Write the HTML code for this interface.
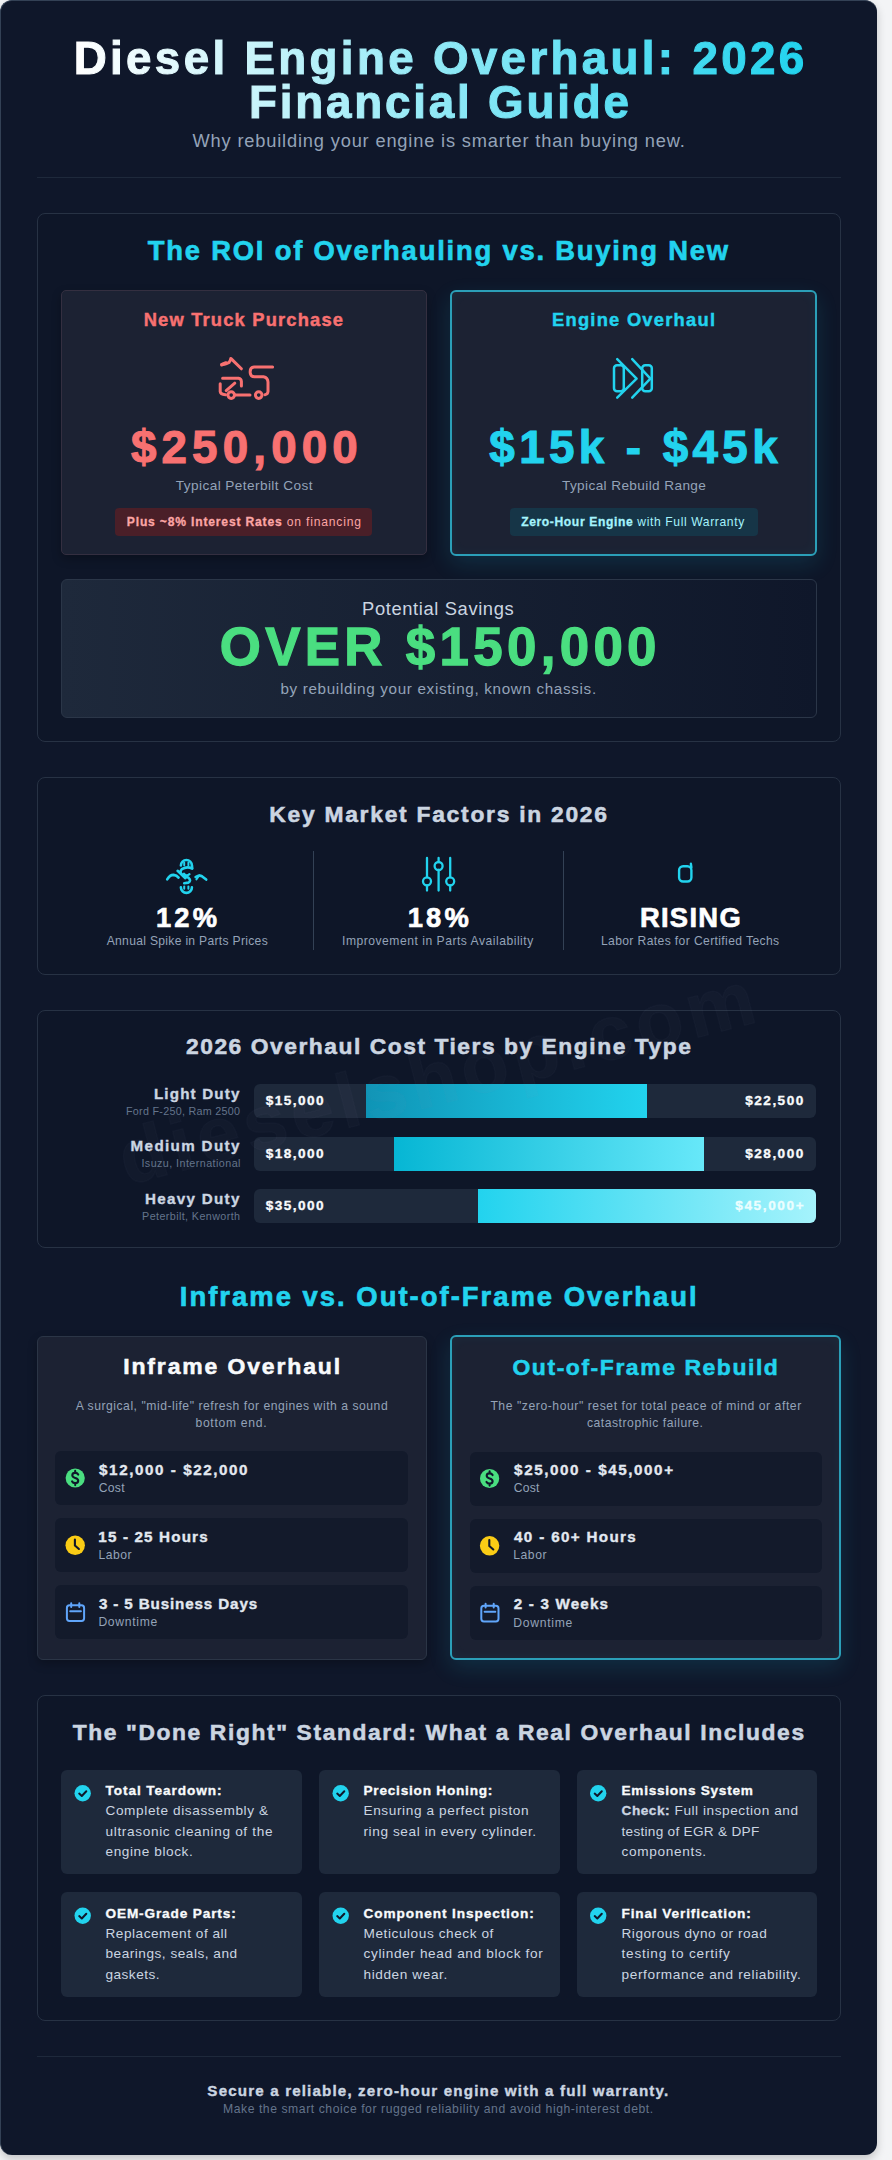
<!DOCTYPE html>
<html><head><meta charset="utf-8"><title>Diesel Engine Overhaul: 2026 Financial Guide</title>
<style>
html,body{margin:0;padding:0;}
body{width:892px;height:2160px;background:#f3f4f6;position:relative;overflow:hidden;font-family:"Liberation Sans",sans-serif;}
.b{position:absolute;box-sizing:border-box;}
.t{position:absolute;white-space:nowrap;font-family:"Liberation Sans",sans-serif;}
svg{position:absolute;overflow:visible;}
</style></head><body>
<!-- container -->
<div class="b" style="left:0;top:0;width:877px;height:2155px;border-radius:12px;background:#0f172a;border-top:1px solid #334155;border-left:1px solid #334155;box-shadow:0 4px 10px rgba(0,0,0,0.2);"></div>
<!-- header divider -->
<div class="b" style="left:37px;top:177px;width:804px;height:1px;background:#1e293b;"></div>

<!-- section 1 ROI -->
<div class="b" style="left:37px;top:213px;width:804px;height:529px;border-radius:8px;background:#0e1628;border:1px solid #273244;"></div>
<div class="b" style="left:61px;top:290px;width:366px;height:265px;border-radius:5px;background:#1c2233;border:1px solid #342f40;box-shadow:0 4px 10px rgba(0,0,0,0.25);"></div>
<div class="b" style="left:450px;top:289.5px;width:367px;height:266.5px;border-radius:6px;background:#1c2233;border:2px solid #2b9fb8;box-shadow:0 8px 22px rgba(34,211,238,0.13), inset 0 0 12px rgba(34,211,238,0.05);"></div>
<div class="b" style="left:115px;top:507.5px;width:257px;height:28px;border-radius:4px;background:#4a1f28;"></div>
<div class="b" style="left:509.5px;top:507.5px;width:248.5px;height:28px;border-radius:4px;background:#163547;"></div>
<div class="b" style="left:61px;top:579px;width:756px;height:139px;border-radius:6px;background:linear-gradient(90deg,#1e293b,#0f172a);border:1px solid #2b3648;"></div>

<!-- section 2 key factors -->
<div class="b" style="left:37px;top:777px;width:804px;height:198px;border-radius:8px;background:#0e1628;border:1px solid #273244;"></div>
<div class="b" style="left:313px;top:851px;width:1px;height:99px;background:#334155;"></div>
<div class="b" style="left:563px;top:851px;width:1px;height:99px;background:#334155;"></div>

<!-- section 3 cost tiers -->
<div class="b" style="left:37px;top:1010px;width:804px;height:238px;border-radius:8px;background:#0e1628;border:1px solid #273244;overflow:hidden;"></div>
<div class="b" style="left:254px;top:1084px;width:562px;height:34px;border-radius:6px;background:#1e293b;overflow:hidden;"><div class="b" style="left:112px;top:0;width:281px;height:34px;background:linear-gradient(90deg,#0e94b6,#22d3ee);"></div></div>
<div class="b" style="left:254px;top:1136.5px;width:562px;height:34px;border-radius:6px;background:#1e293b;overflow:hidden;"><div class="b" style="left:140px;top:0;width:309.5px;height:34px;background:linear-gradient(90deg,#06b6d4,#67e8f9);"></div></div>
<div class="b" style="left:254px;top:1189px;width:562px;height:34px;border-radius:6px;background:#1e293b;overflow:hidden;"><div class="b" style="left:224px;top:0;width:338px;height:34px;background:linear-gradient(90deg,#22d3ee,#a5f3fc);"></div></div>

<!-- section 4 inframe -->
<div class="b" style="left:37px;top:1336px;width:390px;height:324px;border-radius:6px;background:#1c2233;border:1px solid #2b3546;box-shadow:0 4px 10px rgba(0,0,0,0.25);"></div>
<div class="b" style="left:450px;top:1335px;width:391px;height:325px;border-radius:6px;background:#1c2233;border:2px solid #2b9fb8;box-shadow:0 8px 22px rgba(34,211,238,0.13), inset 0 0 12px rgba(34,211,238,0.05);"></div>
<div class="b" style="left:55px;top:1451px;width:353px;height:54px;border-radius:6px;background:#131a2b;"></div>
<div class="b" style="left:55px;top:1518px;width:353px;height:54px;border-radius:6px;background:#131a2b;"></div>
<div class="b" style="left:55px;top:1585px;width:353px;height:54px;border-radius:6px;background:#131a2b;"></div>
<div class="b" style="left:470px;top:1451.5px;width:352px;height:54px;border-radius:6px;background:#131a2b;"></div>
<div class="b" style="left:470px;top:1518.5px;width:352px;height:54px;border-radius:6px;background:#131a2b;"></div>
<div class="b" style="left:470px;top:1585.5px;width:352px;height:54px;border-radius:6px;background:#131a2b;"></div>

<!-- section 5 done right -->
<div class="b" style="left:37px;top:1695px;width:804px;height:326px;border-radius:8px;background:#0e1628;border:1px solid #273244;"></div>
<div class="b" style="left:61px;top:1769.5px;width:240.5px;height:104.5px;border-radius:6px;background:#1e293b;"></div>
<div class="b" style="left:319px;top:1769.5px;width:240.5px;height:104.5px;border-radius:6px;background:#1e293b;"></div>
<div class="b" style="left:577px;top:1769.5px;width:240px;height:104.5px;border-radius:6px;background:#1e293b;"></div>
<div class="b" style="left:61px;top:1892px;width:240.5px;height:104.5px;border-radius:6px;background:#1e293b;"></div>
<div class="b" style="left:319px;top:1892px;width:240.5px;height:104.5px;border-radius:6px;background:#1e293b;"></div>
<div class="b" style="left:577px;top:1892px;width:240px;height:104.5px;border-radius:6px;background:#1e293b;"></div>

<!-- footer divider -->
<div class="b" style="left:37px;top:2056px;width:804px;height:1px;background:#1e293b;"></div>

<div class="t" style="left:0;top:0;width:892px;height:2160px;pointer-events:none;">
<div style="position:absolute;left:439px;top:1077px;font-family:'Liberation Sans',sans-serif;font-weight:700;font-size:77px;line-height:77px;letter-spacing:5.5px;color:rgba(148,163,184,0.032);-webkit-text-stroke:1.5px rgba(148,163,184,0.032);transform:translate(-50%,-50%) rotate(-14.5deg);white-space:nowrap;">dieselshop.com</div>
</div>
<svg style="left:0;top:0" width="892" height="2160" viewBox="0 0 892 2160" fill="none" stroke-linecap="round" stroke-linejoin="round">
 <!-- truck garbled -->
 <g stroke="#f87171" stroke-width="3">
  <path d="M221.8 364.5 Q226.5 364.2 229 362.5 Q230.5 360.5 230.8 358.4 L241.4 368.8"/>
  <path d="M221.9 364.7 L226 363" stroke-width="3.6"/>
  <path d="M220.2 383.8 V391.5 Q220.5 394.3 225.5 394.8"/>
  <path d="M222.6 378.3 H238.5 Q241.2 378.8 241.4 381.5 V386"/>
  <path d="M234.8 383.2 L226.2 390.6"/>
  <circle cx="231.2" cy="395.1" r="3.3"/>
  <path d="M235.5 395.1 H250"/>
  <circle cx="258.7" cy="395.1" r="3.3"/>
  <path d="M272.6 366.9 H254 Q250.2 367.2 250.2 371.2 V372.8 Q250.6 376.7 254.5 376.7 H263.5 Q267.8 377.5 268 382 V391.5 Q267.8 394.3 265 394.7"/>
 </g>
 <!-- engine icon -->
 <g stroke="#22d3ee" stroke-width="2.5">
  <rect x="614" y="365.3" width="9.8" height="26" rx="3"/>
  <rect x="642.2" y="365.3" width="9.6" height="26" rx="3"/>
  <path d="M617.2 359.2 L636.6 378.6 L617.2 397.6"/>
  <path d="M632.2 359.2 L650.4 378.6 L632.2 397.6"/>
 </g>
 <!-- dollar garbled -->
 <g stroke="#22d3ee" stroke-width="2.6">
  <path d="M180.9 865.5 A5.5 5.5 0 0 1 191.9 865.5 L192.2 868"/>
  <path d="M184.2 862.8 V865.2" stroke-width="2"/><path d="M188.4 862.8 V865.2" stroke-width="2"/>
  <path d="M167.2 879.4 Q169.8 874.8 173.6 874.9 Q176.8 875.3 178.6 877.6"/>
  <path d="M192.2 868.6 Q187 865.8 181.8 869.2 Q178.6 872.8 183.4 875.4 L188.6 877.8 Q191.6 880.8 188.4 882.6 L184.2 883.2"/>
  <path d="M177.6 870.8 L185.4 878.2"/>
  <path d="M184 873.6 Q186.5 876.8 189.5 874.2" stroke-width="2.2"/>
  <path d="M195.6 877 Q199.4 874.6 202.2 876.4 L206.2 879.6"/>
  <path d="M199.4 875.2 L196.4 879.4" stroke-width="2"/>
  <path d="M180.9 887.4 A5.5 5.5 0 0 0 191.9 887.4"/>
  <path d="M184.2 886.4 V888.8" stroke-width="2"/><path d="M188.4 886.4 V888.8" stroke-width="2"/>
 </g>
 <!-- sliders -->
 <g stroke="#22d3ee" stroke-width="2.3">
  <path d="M427 858 V877.3 M427 885.3 V890.6"/>
  <path d="M438.6 858 V862 M438.6 870 V890.6"/>
  <path d="M450.2 858 V877.3 M450.2 885.3 V890.6"/>
  <circle cx="427" cy="881.3" r="4"/>
  <circle cx="438.6" cy="866" r="4"/>
  <circle cx="450.2" cy="881.3" r="4"/>
 </g>
 <!-- rising icon -->
 <g stroke="#22d3ee" stroke-width="2.4">
  <rect x="679.1" y="866.3" width="12.3" height="15.2" rx="4"/>
  <path d="M690.9 863.8 L691.4 867.5"/>
 </g>
 <!-- row icons -->
 <g id="ri">
  <circle cx="75.2" cy="1478" r="9.6" fill="#4ade80" stroke="none"/>
  <path d="M78.2 1474.6 Q77.3 1472.9 75.2 1472.9 Q72.3 1472.9 72.3 1475.3 Q72.4 1477.2 75.2 1477.9 Q78.2 1478.7 78.2 1480.8 Q78 1483.1 75.2 1483.1 Q73 1483.1 72.1 1481.4 M75.2 1470.9 V1472.6 M75.2 1483.4 V1485.1" stroke="#0f172a" stroke-width="2.1"/>
  <circle cx="75.2" cy="1545.3" r="9.7" fill="#facc15" stroke="none"/>
  <path d="M74.9 1539.6 V1545.5 L78.9 1549" stroke="#0f172a" stroke-width="2.1"/>
  <rect x="66.9" y="1605.3" width="17.2" height="15.6" rx="2.6" stroke="#60a5fa" stroke-width="2"/>
  <path d="M70.2 1611.3 H80.9 M71.2 1603.2 V1607 M79.3 1603.2 V1607" stroke="#60a5fa" stroke-width="2"/>
 </g>
 <use href="#ri" x="414.4" y="0.5"/>
 <!-- check icons -->
 <g id="ck">
  <circle cx="82.7" cy="1793.3" r="8.2" fill="#22d3ee" stroke="none"/>
  <path d="M79.2 1793.6 L81.8 1796 L86.3 1791.3" stroke="#0f172a" stroke-width="2"/>
 </g>
 <use href="#ck" x="258" y="0"/>
 <use href="#ck" x="515.5" y="0"/>
 <use href="#ck" x="0" y="122.5"/>
 <use href="#ck" x="258" y="122.5"/>
 <use href="#ck" x="515.5" y="122.5"/>
</svg>

<div class="t" style="left:73.71px;top:35.70px;font-size:45.760px;line-height:45.760px;letter-spacing:3.323px;font-weight:700;-webkit-text-stroke:1.10px transparent;background:linear-gradient(90deg,#ffffff 0px,#22d3ee 726px,#22d3ee 2000px);background-size:2000px 100%;background-repeat:no-repeat;background-position:2.3px 0;padding-bottom:14px;padding-right:10px;-webkit-background-clip:text;background-clip:text;color:transparent;">Diesel Engine Overhaul: 2026</div>
<div class="t" style="left:248.91px;top:80.00px;font-size:45.760px;line-height:45.760px;letter-spacing:2.819px;font-weight:700;-webkit-text-stroke:1.10px transparent;background:linear-gradient(90deg,#ffffff 0px,#22d3ee 726px,#22d3ee 2000px);background-size:2000px 100%;background-repeat:no-repeat;background-position:-172.9px 0;padding-bottom:14px;padding-right:10px;-webkit-background-clip:text;background-clip:text;color:transparent;">Financial Guide</div>
<div class="t" style="left:192.51px;top:132.30px;font-size:18.252px;line-height:18.252px;letter-spacing:0.828px;font-weight:400;-webkit-text-stroke:0.00px #94a3b8;color:#94a3b8;">Why rebuilding your engine is smarter than buying new.</div>
<div class="t" style="left:147.76px;top:237.00px;font-size:27.352px;line-height:27.352px;letter-spacing:1.813px;font-weight:700;-webkit-text-stroke:0.66px #22d3ee;color:#22d3ee;">The ROI of Overhauling vs. Buying New</div>
<div class="t" style="left:143.70px;top:310.90px;font-size:18.304px;line-height:18.304px;letter-spacing:1.195px;font-weight:700;-webkit-text-stroke:0.44px #f87171;color:#f87171;">New Truck Purchase</div>
<div class="t" style="left:552.02px;top:310.90px;font-size:18.304px;line-height:18.304px;letter-spacing:1.255px;font-weight:700;-webkit-text-stroke:0.44px #22d3ee;color:#22d3ee;">Engine Overhaul</div>
<div class="t" style="left:130.88px;top:425.40px;font-size:45.760px;line-height:45.760px;letter-spacing:5.156px;font-weight:700;-webkit-text-stroke:1.10px #f87171;color:#f87171;">$250,000</div>
<div class="t" style="left:489.31px;top:425.40px;font-size:45.760px;line-height:45.760px;letter-spacing:4.415px;font-weight:700;-webkit-text-stroke:1.10px #22d3ee;color:#22d3ee;">$15k - $45k</div>
<div class="t" style="left:175.78px;top:479.00px;font-size:13.624px;line-height:13.624px;letter-spacing:0.423px;font-weight:400;-webkit-text-stroke:0.00px #94a3b8;color:#94a3b8;">Typical Peterbilt Cost</div>
<div class="t" style="left:561.95px;top:479.00px;font-size:13.624px;line-height:13.624px;letter-spacing:0.389px;font-weight:400;-webkit-text-stroke:0.00px #94a3b8;color:#94a3b8;">Typical Rebuild Range</div>
<div class="t" style="left:126.84px;top:515.80px;font-size:12.116px;line-height:12.116px;letter-spacing:0.814px;font-weight:400;color:#fca5a5;"><span style="font-weight:700;-webkit-text-stroke:0.29px #fca5a5">Plus ~8% Interest Rates</span><span style="font-weight:400;-webkit-text-stroke:0.00px #fca5a5"> on financing</span></div>
<div class="t" style="left:521.14px;top:515.80px;font-size:12.116px;line-height:12.116px;letter-spacing:0.619px;font-weight:400;color:#a5f3fc;"><span style="font-weight:700;-webkit-text-stroke:0.29px #a5f3fc">Zero-Hour Engine</span><span style="font-weight:400;-webkit-text-stroke:0.00px #a5f3fc"> with Full Warranty</span></div>
<div class="t" style="left:362.09px;top:599.70px;font-size:18.356px;line-height:18.356px;letter-spacing:0.615px;font-weight:400;-webkit-text-stroke:0.00px #cbd5e1;color:#cbd5e1;">Potential Savings</div>
<div class="t" style="left:219.81px;top:621.00px;font-size:52.832px;line-height:52.832px;letter-spacing:4.329px;font-weight:700;-webkit-text-stroke:1.27px #4ade80;color:#4ade80;">OVER $150,000</div>
<div class="t" style="left:280.39px;top:681.30px;font-size:15.236px;line-height:15.236px;letter-spacing:0.670px;font-weight:400;-webkit-text-stroke:0.00px #94a3b8;color:#94a3b8;">by rebuilding your existing, known chassis.</div>
<div class="t" style="left:269.31px;top:802.50px;font-size:22.828px;line-height:22.828px;letter-spacing:1.741px;font-weight:700;-webkit-text-stroke:0.55px #cbd5e1;color:#cbd5e1;">Key Market Factors in 2026</div>
<div class="t" style="left:155.97px;top:904.00px;font-size:27.352px;line-height:27.352px;letter-spacing:3.137px;font-weight:700;-webkit-text-stroke:0.66px #ffffff;color:#ffffff;">12%</div>
<div class="t" style="left:106.70px;top:934.80px;font-size:12.126px;line-height:12.126px;letter-spacing:0.305px;font-weight:400;-webkit-text-stroke:0.00px #94a3b8;color:#94a3b8;">Annual Spike in Parts Prices</div>
<div class="t" style="left:407.77px;top:904.00px;font-size:27.352px;line-height:27.352px;letter-spacing:3.137px;font-weight:700;-webkit-text-stroke:0.66px #ffffff;color:#ffffff;">18%</div>
<div class="t" style="left:342.01px;top:934.80px;font-size:12.126px;line-height:12.126px;letter-spacing:0.515px;font-weight:400;-webkit-text-stroke:0.00px #94a3b8;color:#94a3b8;">Improvement in Parts Availability</div>
<div class="t" style="left:639.89px;top:904.00px;font-size:27.352px;line-height:27.352px;letter-spacing:1.319px;font-weight:700;-webkit-text-stroke:0.66px #ffffff;color:#ffffff;">RISING</div>
<div class="t" style="left:600.90px;top:934.80px;font-size:12.126px;line-height:12.126px;letter-spacing:0.385px;font-weight:400;-webkit-text-stroke:0.00px #94a3b8;color:#94a3b8;">Labor Rates for Certified Techs</div>
<div class="t" style="left:185.96px;top:1035.00px;font-size:22.828px;line-height:22.828px;letter-spacing:1.532px;font-weight:700;-webkit-text-stroke:0.55px #cbd5e1;color:#cbd5e1;">2026 Overhaul Cost Tiers by Engine Type</div>
<div class="t" style="left:153.95px;top:1085.90px;font-size:15.184px;line-height:15.184px;letter-spacing:1.158px;font-weight:700;-webkit-text-stroke:0.36px #cbd5e1;color:#cbd5e1;">Light Duty</div>
<div class="t" style="left:125.98px;top:1105.90px;font-size:10.764px;line-height:10.764px;letter-spacing:0.282px;font-weight:400;-webkit-text-stroke:0.00px #64748b;color:#64748b;">Ford F-250, Ram 2500</div>
<div class="t" style="left:265.63px;top:1094.20px;font-size:13.624px;line-height:13.624px;letter-spacing:1.455px;font-weight:700;-webkit-text-stroke:0.33px #f8fafc;color:#f8fafc;">$15,000</div>
<div class="t" style="left:745.32px;top:1094.20px;font-size:13.624px;line-height:13.624px;letter-spacing:1.455px;font-weight:700;-webkit-text-stroke:0.33px #f8fafc;color:#f8fafc;">$22,500</div>
<div class="t" style="left:130.60px;top:1138.20px;font-size:15.184px;line-height:15.184px;letter-spacing:1.353px;font-weight:700;-webkit-text-stroke:0.36px #cbd5e1;color:#cbd5e1;">Medium Duty</div>
<div class="t" style="left:141.41px;top:1158.20px;font-size:10.764px;line-height:10.764px;letter-spacing:0.434px;font-weight:400;-webkit-text-stroke:0.00px #64748b;color:#64748b;">Isuzu, International</div>
<div class="t" style="left:265.63px;top:1146.50px;font-size:13.624px;line-height:13.624px;letter-spacing:1.455px;font-weight:700;-webkit-text-stroke:0.33px #f8fafc;color:#f8fafc;">$18,000</div>
<div class="t" style="left:745.32px;top:1146.50px;font-size:13.624px;line-height:13.624px;letter-spacing:1.455px;font-weight:700;-webkit-text-stroke:0.33px #f8fafc;color:#f8fafc;">$28,000</div>
<div class="t" style="left:145.08px;top:1190.50px;font-size:15.184px;line-height:15.184px;letter-spacing:1.295px;font-weight:700;-webkit-text-stroke:0.36px #cbd5e1;color:#cbd5e1;">Heavy Duty</div>
<div class="t" style="left:142.09px;top:1210.50px;font-size:10.764px;line-height:10.764px;letter-spacing:0.398px;font-weight:400;-webkit-text-stroke:0.00px #64748b;color:#64748b;">Peterbilt, Kenworth</div>
<div class="t" style="left:265.63px;top:1198.80px;font-size:13.624px;line-height:13.624px;letter-spacing:1.455px;font-weight:700;-webkit-text-stroke:0.33px #f8fafc;color:#f8fafc;">$35,000</div>
<div class="t" style="left:735.21px;top:1198.80px;font-size:13.624px;line-height:13.624px;letter-spacing:1.610px;font-weight:700;-webkit-text-stroke:0.33px #ecfeff;color:#ecfeff;">$45,000+</div>
<div class="t" style="left:179.77px;top:1283.00px;font-size:27.414px;line-height:27.414px;letter-spacing:2.020px;font-weight:700;-webkit-text-stroke:0.66px #22d3ee;color:#22d3ee;">Inframe vs. Out-of-Frame Overhaul</div>
<div class="t" style="left:123.22px;top:1355.40px;font-size:22.984px;line-height:22.984px;letter-spacing:1.861px;font-weight:700;-webkit-text-stroke:0.55px #f8fafc;color:#f8fafc;">Inframe Overhaul</div>
<div class="t" style="left:512.46px;top:1356.00px;font-size:22.932px;line-height:22.932px;letter-spacing:1.570px;font-weight:700;-webkit-text-stroke:0.55px #22d3ee;color:#22d3ee;">Out-of-Frame Rebuild</div>
<div class="t" style="left:75.68px;top:1399.70px;font-size:12.168px;line-height:12.168px;letter-spacing:0.525px;font-weight:400;-webkit-text-stroke:0.00px #94a3b8;color:#94a3b8;">A surgical, &quot;mid-life&quot; refresh for engines with a sound</div>
<div class="t" style="left:195.48px;top:1416.80px;font-size:12.168px;line-height:12.168px;letter-spacing:0.692px;font-weight:400;-webkit-text-stroke:0.00px #94a3b8;color:#94a3b8;">bottom end.</div>
<div class="t" style="left:490.38px;top:1400.20px;font-size:12.168px;line-height:12.168px;letter-spacing:0.564px;font-weight:400;-webkit-text-stroke:0.00px #94a3b8;color:#94a3b8;">The &quot;zero-hour&quot; reset for total peace of mind or after</div>
<div class="t" style="left:586.89px;top:1417.30px;font-size:12.168px;line-height:12.168px;letter-spacing:0.534px;font-weight:400;-webkit-text-stroke:0.00px #94a3b8;color:#94a3b8;">catastrophic failure.</div>
<div class="t" style="left:99.11px;top:1461.50px;font-size:15.205px;line-height:15.205px;letter-spacing:1.562px;font-weight:700;-webkit-text-stroke:0.36px #e2e8f0;color:#e2e8f0;">$12,000 - $22,000</div>
<div class="t" style="left:98.79px;top:1481.80px;font-size:12.168px;line-height:12.168px;letter-spacing:0.249px;font-weight:400;-webkit-text-stroke:0.00px #94a3b8;color:#94a3b8;">Cost</div>
<div class="t" style="left:514.11px;top:1462.00px;font-size:15.205px;line-height:15.205px;letter-spacing:1.572px;font-weight:700;-webkit-text-stroke:0.36px #e2e8f0;color:#e2e8f0;">$25,000 - $45,000+</div>
<div class="t" style="left:513.69px;top:1482.30px;font-size:12.168px;line-height:12.168px;letter-spacing:0.249px;font-weight:400;-webkit-text-stroke:0.00px #94a3b8;color:#94a3b8;">Cost</div>
<div class="t" style="left:98.35px;top:1528.60px;font-size:15.205px;line-height:15.205px;letter-spacing:1.155px;font-weight:700;-webkit-text-stroke:0.36px #e2e8f0;color:#e2e8f0;">15 - 25 Hours</div>
<div class="t" style="left:98.40px;top:1548.90px;font-size:12.168px;line-height:12.168px;letter-spacing:0.516px;font-weight:400;-webkit-text-stroke:0.00px #94a3b8;color:#94a3b8;">Labor</div>
<div class="t" style="left:514.07px;top:1529.10px;font-size:15.205px;line-height:15.205px;letter-spacing:1.346px;font-weight:700;-webkit-text-stroke:0.36px #e2e8f0;color:#e2e8f0;">40 - 60+ Hours</div>
<div class="t" style="left:513.30px;top:1549.40px;font-size:12.168px;line-height:12.168px;letter-spacing:0.516px;font-weight:400;-webkit-text-stroke:0.00px #94a3b8;color:#94a3b8;">Labor</div>
<div class="t" style="left:98.96px;top:1595.70px;font-size:15.205px;line-height:15.205px;letter-spacing:0.862px;font-weight:700;-webkit-text-stroke:0.36px #e2e8f0;color:#e2e8f0;">3 - 5 Business Days</div>
<div class="t" style="left:98.40px;top:1616.00px;font-size:12.168px;line-height:12.168px;letter-spacing:0.702px;font-weight:400;-webkit-text-stroke:0.00px #94a3b8;color:#94a3b8;">Downtime</div>
<div class="t" style="left:513.77px;top:1596.20px;font-size:15.205px;line-height:15.205px;letter-spacing:1.177px;font-weight:700;-webkit-text-stroke:0.36px #e2e8f0;color:#e2e8f0;">2 - 3 Weeks</div>
<div class="t" style="left:513.30px;top:1616.50px;font-size:12.168px;line-height:12.168px;letter-spacing:0.702px;font-weight:400;-webkit-text-stroke:0.00px #94a3b8;color:#94a3b8;">Downtime</div>
<div class="t" style="left:72.66px;top:1720.50px;font-size:22.807px;line-height:22.807px;letter-spacing:1.621px;font-weight:700;-webkit-text-stroke:0.55px #cbd5e1;color:#cbd5e1;">The &quot;Done Right&quot; Standard: What a Real Overhaul Includes</div>
<div class="t" style="left:105.50px;top:1784.00px;font-size:13.645px;line-height:13.645px;letter-spacing:0.910px;font-weight:700;-webkit-text-stroke:0.33px #f8fafc;color:#f8fafc;">Total Teardown:</div>
<div class="t" style="left:105.50px;top:1804.40px;font-size:13.645px;line-height:13.645px;letter-spacing:0.603px;font-weight:400;-webkit-text-stroke:0.00px #cbd5e1;color:#cbd5e1;">Complete disassembly &amp;</div>
<div class="t" style="left:105.50px;top:1824.80px;font-size:13.645px;line-height:13.645px;letter-spacing:0.650px;font-weight:400;-webkit-text-stroke:0.00px #cbd5e1;color:#cbd5e1;">ultrasonic cleaning of the</div>
<div class="t" style="left:105.50px;top:1845.20px;font-size:13.645px;line-height:13.645px;letter-spacing:0.584px;font-weight:400;-webkit-text-stroke:0.00px #cbd5e1;color:#cbd5e1;">engine block.</div>
<div class="t" style="left:363.50px;top:1784.00px;font-size:13.645px;line-height:13.645px;letter-spacing:0.768px;font-weight:700;-webkit-text-stroke:0.33px #f8fafc;color:#f8fafc;">Precision Honing:</div>
<div class="t" style="left:363.50px;top:1804.40px;font-size:13.645px;line-height:13.645px;letter-spacing:0.600px;font-weight:400;-webkit-text-stroke:0.00px #cbd5e1;color:#cbd5e1;">Ensuring a perfect piston</div>
<div class="t" style="left:363.50px;top:1824.80px;font-size:13.645px;line-height:13.645px;letter-spacing:0.585px;font-weight:400;-webkit-text-stroke:0.00px #cbd5e1;color:#cbd5e1;">ring seal in every cylinder.</div>
<div class="t" style="left:621.50px;top:1784.00px;font-size:13.645px;line-height:13.645px;letter-spacing:0.730px;font-weight:700;-webkit-text-stroke:0.33px #f8fafc;color:#f8fafc;">Emissions System</div>
<div class="t" style="left:621.50px;top:1804.40px;font-size:13.645px;line-height:13.645px;letter-spacing:0.545px;font-weight:400;color:#cbd5e1;"><span style="font-weight:700;-webkit-text-stroke:0.33px #cbd5e1">Check:</span><span style="font-weight:400;-webkit-text-stroke:0.00px #cbd5e1"> Full inspection and</span></div>
<div class="t" style="left:621.50px;top:1824.80px;font-size:13.645px;line-height:13.645px;letter-spacing:0.273px;font-weight:400;-webkit-text-stroke:0.00px #cbd5e1;color:#cbd5e1;">testing of EGR &amp; DPF</div>
<div class="t" style="left:621.50px;top:1845.20px;font-size:13.645px;line-height:13.645px;letter-spacing:0.663px;font-weight:400;-webkit-text-stroke:0.00px #cbd5e1;color:#cbd5e1;">components.</div>
<div class="t" style="left:105.50px;top:1906.50px;font-size:13.645px;line-height:13.645px;letter-spacing:0.858px;font-weight:700;-webkit-text-stroke:0.33px #f8fafc;color:#f8fafc;">OEM-Grade Parts:</div>
<div class="t" style="left:105.50px;top:1926.90px;font-size:13.645px;line-height:13.645px;letter-spacing:0.518px;font-weight:400;-webkit-text-stroke:0.00px #cbd5e1;color:#cbd5e1;">Replacement of all</div>
<div class="t" style="left:105.50px;top:1947.30px;font-size:13.645px;line-height:13.645px;letter-spacing:0.508px;font-weight:400;-webkit-text-stroke:0.00px #cbd5e1;color:#cbd5e1;">bearings, seals, and</div>
<div class="t" style="left:105.50px;top:1967.70px;font-size:13.645px;line-height:13.645px;letter-spacing:0.464px;font-weight:400;-webkit-text-stroke:0.00px #cbd5e1;color:#cbd5e1;">gaskets.</div>
<div class="t" style="left:363.50px;top:1906.50px;font-size:13.645px;line-height:13.645px;letter-spacing:0.909px;font-weight:700;-webkit-text-stroke:0.33px #f8fafc;color:#f8fafc;">Component Inspection:</div>
<div class="t" style="left:363.50px;top:1926.90px;font-size:13.645px;line-height:13.645px;letter-spacing:0.566px;font-weight:400;-webkit-text-stroke:0.00px #cbd5e1;color:#cbd5e1;">Meticulous check of</div>
<div class="t" style="left:363.50px;top:1947.30px;font-size:13.645px;line-height:13.645px;letter-spacing:0.630px;font-weight:400;-webkit-text-stroke:0.00px #cbd5e1;color:#cbd5e1;">cylinder head and block for</div>
<div class="t" style="left:363.50px;top:1967.70px;font-size:13.645px;line-height:13.645px;letter-spacing:0.585px;font-weight:400;-webkit-text-stroke:0.00px #cbd5e1;color:#cbd5e1;">hidden wear.</div>
<div class="t" style="left:621.50px;top:1906.50px;font-size:13.645px;line-height:13.645px;letter-spacing:0.875px;font-weight:700;-webkit-text-stroke:0.33px #f8fafc;color:#f8fafc;">Final Verification:</div>
<div class="t" style="left:621.50px;top:1926.90px;font-size:13.645px;line-height:13.645px;letter-spacing:0.522px;font-weight:400;-webkit-text-stroke:0.00px #cbd5e1;color:#cbd5e1;">Rigorous dyno or road</div>
<div class="t" style="left:621.50px;top:1947.30px;font-size:13.645px;line-height:13.645px;letter-spacing:0.765px;font-weight:400;-webkit-text-stroke:0.00px #cbd5e1;color:#cbd5e1;">testing to certify</div>
<div class="t" style="left:621.50px;top:1967.70px;font-size:13.645px;line-height:13.645px;letter-spacing:0.616px;font-weight:400;-webkit-text-stroke:0.00px #cbd5e1;color:#cbd5e1;">performance and reliability.</div>
<div class="t" style="left:207.37px;top:2082.70px;font-size:15.205px;line-height:15.205px;letter-spacing:1.136px;font-weight:700;-webkit-text-stroke:0.36px #cbd5e1;color:#cbd5e1;">Secure a reliable, zero-hour engine with a full warranty.</div>
<div class="t" style="left:222.94px;top:2102.70px;font-size:12.199px;line-height:12.199px;letter-spacing:0.557px;font-weight:400;-webkit-text-stroke:0.00px #64748b;color:#64748b;">Make the smart choice for rugged reliability and avoid high-interest debt.</div>
</body></html>
